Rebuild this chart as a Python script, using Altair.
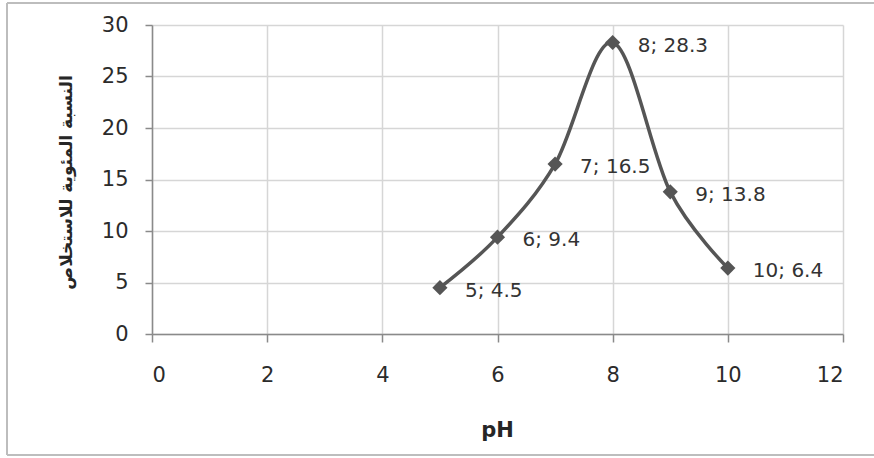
import altair as alt
import pandas as pd

# Extraction percentage versus pH
ph_values = [5, 6, 7, 8, 9, 10]
extraction = [4.5, 9.4, 16.5, 28.3, 13.8, 6.4]
x_ticks = [0, 2, 4, 6, 8, 10, 12]
y_ticks = [0, 5, 10, 15, 20, 25, 30]

y_title = "النسبة المئوية للاستخلاص"
x_title = "pH"

df = pd.DataFrame({"ph": ph_values, "pct": extraction})
df["label"] = [f"{p}; {v}" for p, v in zip(ph_values, extraction)]

FONT = "DejaVu Sans"
LINE_COLOR = "#555555"
FRAME_COLOR = "#bdbdbd"

x_enc = alt.X(
    "ph:Q",
    scale=alt.Scale(domain=[0, 12], nice=False, zero=False),
    axis=alt.Axis(
        values=x_ticks,
        format="d",
        title=x_title,
        titleX=345,
        titleY=102,
        titleBaseline="alphabetic",
        titleFontSize=21,
        titleFontWeight="bold",
        labelPadding=22,
        tickSize=8,
    ),
)
y_enc = alt.Y(
    "pct:Q",
    scale=alt.Scale(domain=[0, 30], nice=False),
    axis=alt.Axis(
        values=y_ticks,
        format="d",
        title=y_title,
        titleAngle=-90,
        titleX=-86,
        titleY=157,
        titleBaseline="middle",
        titleFontSize=17,
        titleFontWeight="bold",
        labelPadding=17,
        tickSize=7,
    ),
)

line = alt.Chart(df).mark_line(
    interpolate="cardinal", color=LINE_COLOR, strokeWidth=3.5
).encode(x=x_enc, y=y_enc)

points = alt.Chart(df).mark_point(
    shape="diamond", filled=True, size=230, color=LINE_COLOR, opacity=1
).encode(x="ph:Q", y="pct:Q")

labels = alt.Chart(df).mark_text(
    align="left", baseline="middle", dx=25, dy=3,
    font=FONT, fontSize=20, color="#333333"
).encode(x="ph:Q", y="pct:Q", text="label:N")

# Outer frame of the chart: top, left and bottom edges only
frame_top = alt.Chart(df).mark_rule(color=FRAME_COLOR, strokeWidth=2).encode(
    x=alt.value(-145), x2=alt.value(722), y=alt.value(-22)
)
frame_left = alt.Chart(df).mark_rule(color=FRAME_COLOR, strokeWidth=2).encode(
    x=alt.value(-145), y=alt.value(-22), y2=alt.value(430)
)
frame_bottom = alt.Chart(df).mark_rule(color=FRAME_COLOR, strokeWidth=2).encode(
    x=alt.value(-145), x2=alt.value(722), y=alt.value(430)
)

chart = alt.layer(frame_top, frame_left, frame_bottom, line, points, labels).properties(
    width=691,
    height=309,
    padding={"left": 152, "top": 25, "right": 31, "bottom": 124},
    autosize=alt.AutoSizeParams(type="none"),
    background="white",
).configure_view(
    stroke=None
).configure_axis(
    labelFont=FONT,
    titleFont=FONT,
    labelFontSize=21,
    labelColor="#2b2b2b",
    titleColor="#262626",
    grid=True,
    gridColor="#d6d6d6",
    gridWidth=1.5,
    domainColor="#8a8a8a",
    domainWidth=1.5,
    tickColor="#8a8a8a",
    tickWidth=1.5,
)

chart.save("out.html", embed_options={"renderer": "svg", "actions": False})
